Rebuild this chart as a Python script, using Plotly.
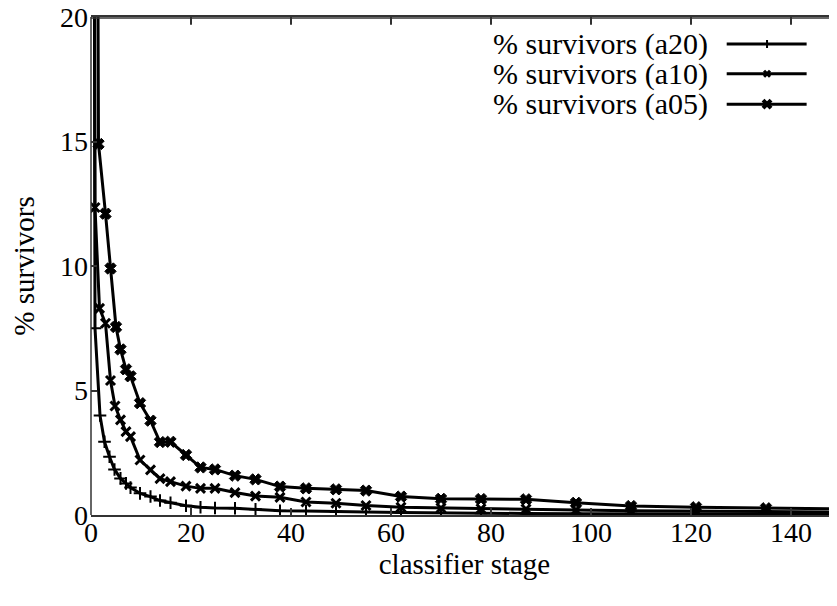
import plotly.graph_objects as go

# ---- data ----
x_a20 = [0, 0.8, 1.8, 2.7, 3.7, 4.7, 5.9, 7, 7.9, 9.8, 11.9, 13.8, 15.9, 19, 21.9, 24.8, 28.8, 32.9, 37.8, 43,
         49, 55, 62, 70, 78, 87, 97, 108, 121, 135, 150]
y_a20 = [100, 7.5, 4.0, 2.94, 2.34, 1.83, 1.47, 1.27, 1.1, 0.87, 0.74, 0.58, 0.49, 0.37, 0.31, 0.28, 0.27, 0.23, 0.17, 0.16,
         0.13, 0.12, 0.1, 0.08, 0.07, 0.06, 0.05, 0.05, 0.04, 0.04, 0.03]

x_a10 = [0, 0.8, 1.7, 2.9, 3.9, 4.8, 5.9, 7, 7.9, 9.8, 11.9, 13.8, 15.9, 19, 21.9, 24.8, 28.8, 32.9, 37.8, 43,
         49, 55, 62, 70, 78, 87, 97, 108, 121, 135, 150]
y_a10 = [100, 12.35, 8.3, 7.7, 5.4, 4.38, 3.82, 3.35, 3.15, 2.21, 1.81, 1.46, 1.34, 1.16, 1.07, 1.07, 0.9, 0.76, 0.71, 0.52,
         0.47, 0.38, 0.31, 0.28, 0.25, 0.24, 0.2, 0.17, 0.15, 0.13, 0.12]

x_a05 = [0, 1.5, 2.9, 3.9, 5, 5.9, 7, 7.9, 9.8, 11.9, 13.8, 15.9, 19, 21.9, 24.8, 28.8, 32.9, 37.8, 43, 49,
         55, 62, 70, 78, 87, 97, 108, 121, 135, 150]
y_a05 = [100, 14.9, 12.1, 9.9, 7.55, 6.65, 5.85, 5.57, 4.49, 3.79, 2.93, 2.94, 2.41, 1.91, 1.83, 1.58, 1.43, 1.14, 1.07, 1.03,
         0.98, 0.74, 0.65, 0.64, 0.63, 0.49, 0.36, 0.31, 0.27, 0.25]

series_names = ["% survivors (a20)", "% survivors (a10)", "% survivors (a05)"]
x_ticks = [0, 20, 40, 60, 80, 100, 120, 140]
y_ticks = [0, 5, 10, 15, 20]

FONT = "Times New Roman"
BORDER = "#333"
styles = [
    dict(symbol="cross-thin", size=9, line=dict(width=2, color="black")),
    dict(symbol="x-thin", size=9, line=dict(width=3, color="black")),
    dict(symbol="x", size=10, color="black", line=dict(width=1, color="black")),
]
# legend sample glyphs (pixel paths, drawn as shapes)
legend_glyphs = [
    ("M -4 0 L 4 0 M 0 -4 L 0 4", 2),
    ("M -3 -3 L 3 3 M -3 3 L 3 -3", 3),
    ("M -4 -4 L 4 4 M -4 4 L 4 -4 M -3 0 L 3 0", 4),
]

fig = go.Figure()
for xs, ys, name, mk in zip([x_a20, x_a10, x_a05], [y_a20, y_a10, y_a05], series_names, styles):
    fig.add_trace(go.Scatter(x=xs, y=ys, mode="lines+markers", name=name,
                             line=dict(color="black", width=3), marker=mk, showlegend=False))

# legend drawn manually (text on the left, sample on the right, gnuplot style)
leg_y = [0.946, 0.886, 0.825]
for yy, name, (path, lw) in zip(leg_y, series_names, legend_glyphs):
    fig.add_annotation(x=0.829, y=yy, xref="paper", yref="paper", text=name, showarrow=False,
                       xanchor="right", yanchor="middle", font=dict(family=FONT, size=30, color="black"))
    fig.add_shape(type="line", xref="paper", yref="paper", x0=0.851, x1=0.958, y0=yy, y1=yy,
                  line=dict(color="black", width=3))
    fig.add_shape(type="path", xref="paper", yref="paper", xsizemode="pixel", ysizemode="pixel",
                  xanchor=0.905, yanchor=yy, path=path, line=dict(color="black", width=lw))

# border (left, top) and mirrored ticks (top, right)
fig.add_shape(type="line", xref="paper", yref="paper", x0=0, x1=0, y0=0, y1=1,
              line=dict(color=BORDER, width=1.5), layer="above")
fig.add_shape(type="line", xref="paper", yref="paper", x0=0, x1=1, y0=0.998, y1=0.998,
              line=dict(color=BORDER, width=1.5), layer="above")
for tv in x_ticks[1:]:
    fig.add_shape(type="line", xref="x", yref="paper", x0=tv, x1=tv, y0=0.984, y1=1,
                  line=dict(color=BORDER, width=1.5), layer="above")
for tv in y_ticks[1:-1]:
    fig.add_shape(type="line", xref="paper", yref="y", x0=0.99, x1=1, y0=tv, y1=tv,
                  line=dict(color=BORDER, width=1.5), layer="above")

fig.update_layout(
    width=837, height=606,
    margin=dict(l=83, r=7, t=9, b=99, autoexpand=False),
    paper_bgcolor="white", plot_bgcolor="white",
    font=dict(family=FONT, size=28, color="black"),
    showlegend=False,
    xaxis=dict(range=[0, 149.4], tickvals=x_ticks, ticks="inside", ticklen=7, tickwidth=1.5,
               tickcolor=BORDER, showline=True, linecolor=BORDER, linewidth=1.5, mirror="ticks",
               showgrid=False, zeroline=False, automargin=False, ticklabelstandoff=-8,
               ticklabeloverflow="allow", tickfont=dict(family=FONT, size=28),
               title=dict(text="classifier stage", font=dict(family=FONT, size=29), standoff=5)),
    yaxis=dict(range=[0, 20], tickvals=y_ticks, ticks="inside", ticklen=6, tickwidth=1.5,
               tickcolor=BORDER, showline=False, automargin=False,
               showgrid=False, zeroline=False, ticklabelstandoff=2,
               ticklabeloverflow="allow", tickfont=dict(family=FONT, size=28),
               title=dict(text="% survivors", font=dict(family=FONT, size=29), standoff=24)),
)

fig.write_html("out.html")
